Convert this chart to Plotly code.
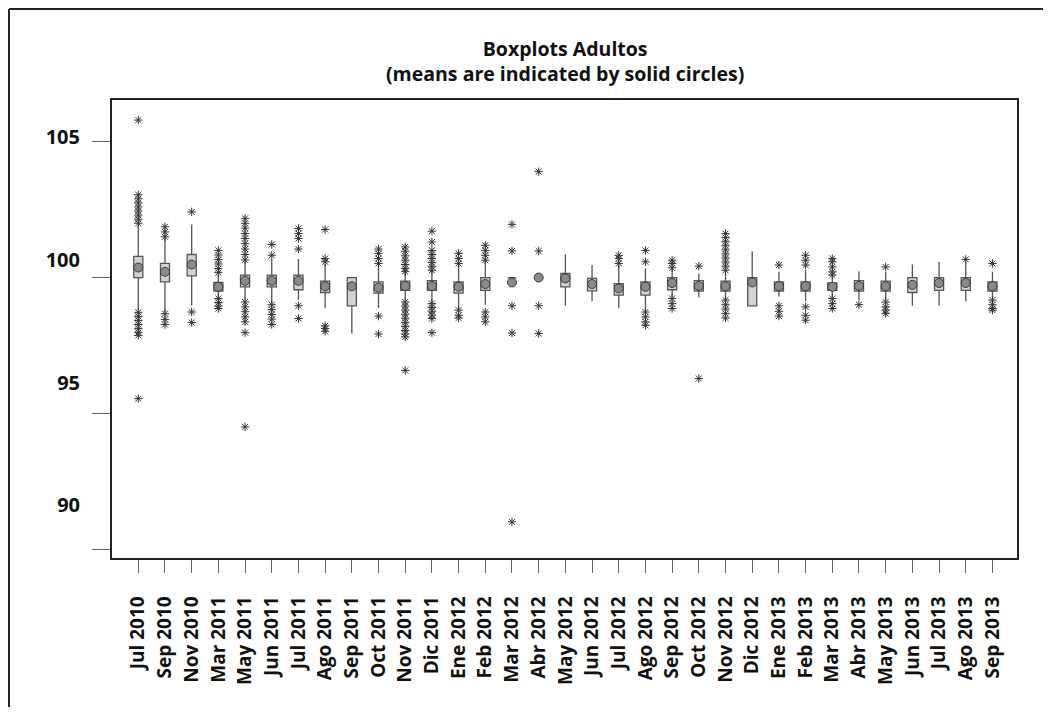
import plotly.graph_objects as go

categories = ["Jul 2010", "Sep 2010", "Nov 2010", "Mar 2011", "May 2011", "Jun 2011", "Jul 2011",
              "Ago 2011", "Sep 2011", "Oct 2011", "Nov 2011", "Dic 2011", "Ene 2012", "Feb 2012",
              "Mar 2012", "Abr 2012", "May 2012", "Jun 2012", "Jul 2012", "Ago 2012", "Sep 2012",
              "Oct 2012", "Nov 2012", "Dic 2012", "Ene 2013", "Feb 2013", "Mar 2013", "Abr 2013",
              "May 2013", "Jun 2013", "Jul 2013", "Ago 2013", "Sep 2013"]

q1 = [100.00, 99.84, 100.06, 99.50, 99.66, 99.66, 99.55, 99.45, 98.96, 99.43, 99.53, 99.53, 99.43, 99.53,
      100.00, 100.00, 99.66, 99.51, 99.35, 99.35, 99.55, 99.50, 99.50, 98.96, 99.50, 99.50, 99.53, 99.50,
      99.50, 99.45, 99.53, 99.53, 99.50]
q3 = [100.78, 100.52, 100.85, 99.82, 100.09, 100.09, 100.09, 99.87, 100.00, 99.84, 99.87, 99.89, 99.84, 100.00,
      100.00, 100.00, 100.15, 99.97, 99.78, 99.84, 100.00, 99.89, 99.87, 100.00, 99.84, 99.84, 99.80, 99.89,
      99.87, 100.00, 100.00, 100.00, 99.84]
medians = [100.35, 100.20, 100.45, 99.66, 99.88, 99.88, 99.88, 99.68, 99.70, 99.63, 99.69, 99.69, 99.66, 99.76,
           100.00, 100.00, 99.97, 99.76, 99.60, 99.66, 99.80, 99.69, 99.68, 99.85, 99.68, 99.68, 99.66, 99.69,
           99.68, 99.73, 99.80, 99.80, 99.68]
whisker_low = [98.80, 98.73, 98.98, 99.29, 99.17, 99.08, 99.17, 98.88, 97.94, 98.88, 99.20, 99.10, 98.85, 99.00,
               100.00, 100.00, 98.96, 99.13, 98.88, 98.78, 99.30, 99.27, 99.20, 98.96, 99.30, 99.13, 99.30, 99.17,
               99.17, 98.96, 98.96, 99.13, 99.25]
whisker_high = [101.93, 101.45, 101.95, 100.10, 100.60, 100.67, 100.68, 100.50, 100.00, 100.45, 100.20, 100.25,
                100.45, 100.60, 100.00, 100.00, 100.86, 100.46, 100.45, 100.33, 100.30, 100.15, 100.20, 100.97,
                100.21, 100.28, 100.00, 100.23, 100.21, 100.48, 100.58, 100.58, 100.21]
means = [100.37, 100.21, 100.48, 99.66, 99.88, 99.88, 99.88, 99.68, 99.68, 99.63, 99.69, 99.69, 99.66, 99.76,
         99.82, 100.00, 99.97, 99.76, 99.60, 99.66, 99.80, 99.69, 99.68, 99.82, 99.68, 99.68, 99.66, 99.69,
         99.68, 99.73, 99.80, 99.80, 99.68]
outliers = [
    [105.8, 103.05, 102.9, 102.75, 102.6, 102.45, 102.3, 102.15, 102.0, 98.72, 98.57, 98.42, 98.27, 98.12, 97.97, 97.87, 95.54],
    [101.87, 101.68, 101.5, 98.67, 98.46, 98.27],
    [102.42, 98.73, 98.34],
    [101.0, 100.83, 100.66, 100.5, 100.33, 100.18, 99.23, 99.08, 98.95, 98.86],
    [102.18, 102.0, 101.82, 101.62, 101.44, 101.25, 101.05, 100.85, 100.65, 99.1, 98.92, 98.74, 98.55, 98.37, 97.97, 94.5],
    [101.22, 100.82, 99.0, 98.82, 98.64, 98.47, 98.27],
    [101.81, 101.62, 101.44, 101.05, 98.96, 98.49],
    [101.77, 100.7, 100.58, 98.22, 98.12, 98.02],
    [],
    [101.05, 100.89, 100.7, 100.52, 98.58, 97.92],
    [101.13, 100.97, 100.8, 100.64, 100.48, 100.33, 100.23, 99.1, 98.95, 98.8, 98.65, 98.5, 98.35, 98.2, 98.05, 97.92, 97.81, 96.58],
    [101.71, 101.31, 101.0, 100.85, 100.7, 100.55, 100.4, 100.27, 99.04, 98.9, 98.76, 98.62, 98.49, 97.97],
    [100.89, 100.7, 100.52, 98.8, 98.61, 98.51],
    [101.19, 101.0, 100.82, 100.64, 98.73, 98.55, 98.37],
    [101.96, 100.98, 98.96, 97.96, 91.0],
    [103.9, 100.98, 98.96, 97.94],
    [],
    [],
    [100.82, 100.7, 100.52],
    [101.0, 100.58, 98.73, 98.55, 98.37, 98.24],
    [100.64, 100.52, 100.36, 99.23, 99.04, 98.86],
    [100.42, 96.28],
    [101.62, 101.47, 101.32, 101.17, 101.02, 100.87, 100.72, 100.57, 100.42, 100.27, 99.17, 99.0, 98.84, 98.67, 98.51],
    [],
    [100.46, 98.96, 98.76, 98.58],
    [100.82, 100.64, 100.46, 98.92, 98.61, 98.43],
    [100.7, 100.58, 100.39, 100.21, 100.09, 99.23, 99.04, 98.86],
    [99.0],
    [100.39, 99.1, 98.92, 98.8, 98.67],
    [],
    [],
    [100.67],
    [100.52, 99.17, 99.0, 98.86, 98.8],
]
y_ticks = [90, 95, 100, 105]
title_lines = ["Boxplots Adultos", "(means are indicated by solid circles)"]

xs = list(range(len(categories)))
out_x = [i for i, vals in enumerate(outliers) for _ in vals]
out_y = [v for vals in outliers for v in vals]

FONT = "Open Sans"
# page body has an 8px margin: the figure is sized to fit inside the window
W, H = 1035, 699
ML, MT, MR, MB = 104, 92, 26, 149
PW, PH = W - ML - MR, H - MT - MB

fig = go.Figure()

fig.add_trace(go.Box(
    x=xs, q1=q1, median=medians, q3=q3, lowerfence=whisker_low, upperfence=whisker_high,
    width=0.34, whiskerwidth=0, boxpoints=False,
    fillcolor="#d3d3d3", line=dict(color="#555555", width=1.3),
    showlegend=False, hoverinfo="skip",
))
fig.add_trace(go.Scatter(
    x=out_x, y=out_y, mode="markers",
    marker=dict(symbol="asterisk-open", size=7, color="#333333", line=dict(color="#333333", width=1)),
    showlegend=False, hoverinfo="skip",
))
fig.add_trace(go.Scatter(
    x=xs, y=means, mode="markers",
    marker=dict(symbol="circle", size=9, color="#8a8a8a", line=dict(color="#3a3a3a", width=1)),
    showlegend=False, hoverinfo="skip",
))
# carrier for the label axis
fig.add_trace(go.Scatter(x=[None], y=[None], yaxis="y2", showlegend=False, hoverinfo="skip"))

frame_x = (1 - ML) / PW
frame_y = 1 + (MT - 1) / PH

fig.update_layout(
    width=W, height=H,
    margin=dict(l=ML, r=MR, t=MT, b=MB),
    paper_bgcolor="white", plot_bgcolor="white",
    font=dict(family=FONT, color="#111111"),
    hovermode=False,
    xaxis=dict(
        range=[-0.985, 32.92], tickmode="array", tickvals=xs, ticktext=categories,
        tickangle=-90, ticks="outside", ticklen=13, tickwidth=1.2, tickcolor="#666666",
        ticklabelstandoff=16,
        tickfont=dict(family=FONT, size=19, weight="bold", color="#111111"),
        showline=True, mirror=True, linecolor="#222222", linewidth=1.5,
        showgrid=False, zeroline=False,
    ),
    yaxis=dict(
        range=[89.67, 106.54], tickmode="array", tickvals=y_ticks,
        ticks="outside", ticklen=18, tickwidth=1.2, tickcolor="#666666",
        showticklabels=False,
        showline=True, mirror=True, linecolor="#222222", linewidth=1.5,
        showgrid=False, zeroline=False,
    ),
    yaxis2=dict(
        overlaying="y", side="left", anchor="x",
        range=[87.84, 106.53], tickmode="array", tickvals=y_ticks,
        ticktext=[str(v) for v in y_ticks],
        ticks="outside", ticklen=27, tickcolor="rgba(0,0,0,0)",
        tickfont=dict(family=FONT, size=20, weight="bold", color="#111111"),
        showline=False, showgrid=False, zeroline=False,
    ),
    annotations=[
        dict(text="<br>".join(title_lines), xref="paper", yref="paper", x=0.5, y=1 + (MT - 53) / PH,
             xanchor="center", yanchor="middle", showarrow=False, align="center",
             font=dict(family=FONT, size=19.5, weight="bold", color="#111111")),
    ],
    shapes=[
        dict(type="line", xref="paper", yref="paper",
             x0=frame_x, x1=frame_x, y0=frame_y, y1=-0.5,
             line=dict(color="#222222", width=2)),
        dict(type="line", xref="paper", yref="paper",
             x0=frame_x, x1=1.2, y0=frame_y, y1=frame_y,
             line=dict(color="#222222", width=2)),
    ],
)

fig.write_html("out.html")
